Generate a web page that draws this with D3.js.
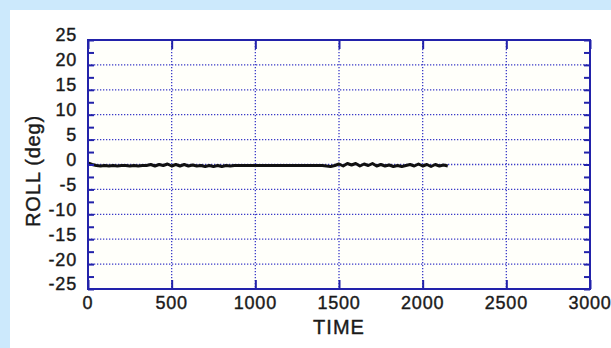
<!DOCTYPE html>
<html><head><meta charset="utf-8">
<script src="https://cdn.jsdelivr.net/npm/d3@7"></script>
<style>html,body{margin:0;padding:0;background:#cce9fc;}svg{display:block;}</style>
</head><body>
<svg id="c" width="611" height="348"></svg>
<script>
const timeValues = [0,25,50,75,100,125,150,175,200,225,250,275,300,325,350,375,400,425,450,475,500,525,550,575,600,625,650,675,700,725,750,775,800,825,850,875,900,925,950,975,1000,1025,1050,1075,1100,1125,1150,1175,1200,1225,1250,1275,1300,1325,1350,1375,1400,1425,1450,1475,1500,1525,1550,1575,1600,1625,1650,1675,1700,1725,1750,1775,1800,1825,1850,1875,1900,1925,1950,1975,2000,2025,2050,2075,2100,2125,2150];
const rollValues = [0.3,0.0,-0.2,-0.3,-0.2,-0.3,-0.2,-0.3,-0.2,-0.2,-0.3,-0.2,-0.3,-0.2,-0.2,0.0,-0.3,0.0,-0.2,0.1,-0.3,0.0,-0.3,0.0,-0.3,-0.1,-0.3,-0.2,-0.4,-0.2,-0.4,-0.2,-0.4,-0.2,-0.3,-0.2,-0.2,-0.2,-0.2,-0.2,-0.2,-0.2,-0.2,-0.2,-0.2,-0.2,-0.2,-0.2,-0.2,-0.2,-0.2,-0.2,-0.2,-0.2,-0.2,-0.2,-0.2,-0.3,-0.4,-0.2,0.1,-0.3,0.2,-0.1,0.2,-0.3,0.1,-0.2,0.2,-0.3,0.0,-0.3,-0.1,-0.4,-0.2,-0.4,-0.2,0.0,-0.3,0.1,-0.3,0.0,-0.4,0.0,-0.3,-0.1,-0.3];
const xTicks = [0,500,1000,1500,2000,2500,3000];
const yTicks = [25,20,15,10,5,0,-5,-10,-15,-20,-25];
const yMinorTicks = [22.5,17.5,12.5,7.5,2.5,-2.5,-7.5,-12.5,-17.5,-22.5];
const xLabel = "TIME", yLabel = "ROLL (deg)";

const svg = d3.select("#c");
const L = 88, R = 590, T = 40, B = 289;
svg.append("rect").attr("x",10).attr("y",10).attr("width",601).attr("height",338).attr("fill","#ffffff");
svg.append("rect").attr("x",L).attr("y",T).attr("width",R-L).attr("height",B-T).attr("fill","#fffffa");

const x = d3.scaleLinear().domain([0,3000]).range([L,R]);
const y = d3.scaleLinear().domain([-25,25]).range([B,T]);
const axisCol = "#2222aa", gridCol = "#3a3ac8";

// grid
svg.append("g").selectAll("line").data(yTicks.filter(v=>v!==25&&v!==-25)).join("line")
  .attr("x1",L).attr("x2",R).attr("y1",d=>y(d)).attr("y2",d=>y(d))
  .attr("stroke",gridCol).attr("stroke-width",1.3).attr("stroke-dasharray","1.3,1.7");
svg.append("g").selectAll("line").data(xTicks.filter(v=>v!==0&&v!==3000)).join("line")
  .attr("x1",d=>x(d)).attr("x2",d=>x(d)).attr("y1",T).attr("y2",B)
  .attr("stroke",gridCol).attr("stroke-width",1.3).attr("stroke-dasharray","1.3,1.7");

// data line
const line = d3.line().x((d,i)=>x(timeValues[i])).y(d=>y(d));
svg.append("path").datum(rollValues).attr("d",line).attr("fill","none")
  .attr("stroke","#111").attr("stroke-width",3).attr("stroke-linejoin","round");

// axes ticks (inward) using d3 axes
const fontCss = "'Liberation Sans', Arial, sans-serif";
const gL = svg.append("g").attr("transform",`translate(${L},0)`)
  .call(d3.axisRight(y).tickValues(yTicks.concat(yMinorTicks)).tickSize(6).tickFormat(""));
const gR = svg.append("g").attr("transform",`translate(${R},0)`)
  .call(d3.axisLeft(y).tickValues(yTicks.concat(yMinorTicks)).tickSize(6).tickFormat(""));
const gB = svg.append("g").attr("transform",`translate(0,${B})`)
  .call(d3.axisTop(x).tickValues(xTicks).tickSize(9).tickFormat(""));
const gT = svg.append("g").attr("transform",`translate(0,${T})`)
  .call(d3.axisBottom(x).tickValues(xTicks).tickSize(9).tickFormat(""));
[gL,gR,gB,gT].forEach(g=>{
  g.select(".domain").remove();
  g.selectAll(".tick line").attr("stroke",axisCol).attr("stroke-width",2);
});
svg.append("rect").attr("x",L).attr("y",T).attr("width",R-L).attr("height",B-T)
  .attr("fill","none").attr("stroke",axisCol).attr("stroke-width",2);

// tick labels
svg.append("g").selectAll("text").data(yTicks).join("text")
  .attr("x",L-11).attr("y",d=>y(d)-5).attr("dy","0.36em").attr("text-anchor","end")
  .attr("font-family",fontCss).attr("font-size",18).attr("letter-spacing",0.8)
  .attr("fill","#1a1a1a").attr("stroke","#1a1a1a").attr("stroke-width",0.4)
  .text(d=>d);
svg.append("g").selectAll("text").data(xTicks).join("text")
  .attr("x",d=>x(d)).attr("y",309).attr("text-anchor","middle")
  .attr("font-family",fontCss).attr("font-size",18).attr("letter-spacing",0.8)
  .attr("fill","#1a1a1a").attr("stroke","#1a1a1a").attr("stroke-width",0.4)
  .text(d=>d);

svg.append("text").attr("x",(L+R)/2).attr("y",334).attr("text-anchor","middle")
  .attr("font-family",fontCss).attr("font-size",20).attr("letter-spacing",1)
  .attr("fill","#1a1a1a").attr("stroke","#1a1a1a").attr("stroke-width",0.4).text(xLabel);
svg.append("text").attr("transform","translate(40,171) rotate(-90)").attr("text-anchor","middle")
  .attr("font-family",fontCss).attr("font-size",20).attr("letter-spacing",0.8)
  .attr("fill","#1a1a1a").attr("stroke","#1a1a1a").attr("stroke-width",0.4).text(yLabel);
</script>
</body></html>
